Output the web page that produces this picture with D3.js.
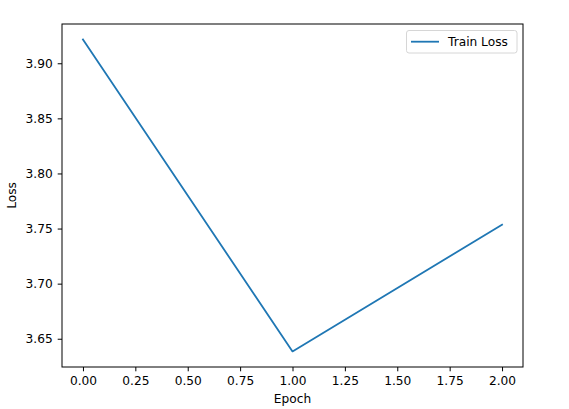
<!DOCTYPE html>
<html><head><meta charset="utf-8">
<script src="https://cdn.jsdelivr.net/npm/d3@7"></script>
<style>body{margin:0;background:#fff;} text{font-family:"DejaVu Sans",sans-serif;}</style>
</head><body>
<svg id="c" width="569" height="409"></svg>
<script>
const epochs = [0, 1, 2];
const trainLoss = [3.9215, 3.6385, 3.7535];
const xTicks = [0, 0.25, 0.5, 0.75, 1.0, 1.25, 1.5, 1.75, 2.0];
const yTicks = [3.65, 3.70, 3.75, 3.80, 3.85, 3.90];
const seriesName = "Train Loss";

const FS = "12.2px";
const svg = d3.select("#c");
const L = 62, R = 523, T = 24, B = 367;
const xr = d3.extent(epochs), xm = (xr[1]-xr[0])*0.05;
const yr = d3.extent(trainLoss), ym = (yr[1]-yr[0])*0.05;
const x = d3.scaleLinear().domain([xr[0]-xm, xr[1]+xm]).range([L, R]);
const y = d3.scaleLinear().domain([yr[0]-ym, yr[1]+ym]).range([B, T]);

const xa = svg.append("g").attr("transform", `translate(0,${B})`)
  .call(d3.axisBottom(x).tickValues(xTicks).tickFormat(d3.format(".2f")).tickSize(4.3).tickPadding(5.5));
const ya = svg.append("g").attr("transform", `translate(${L},0)`)
  .call(d3.axisLeft(y).tickValues(yTicks).tickFormat(d3.format(".2f")).tickSize(4.3).tickPadding(5));
[xa, ya].forEach(a => {
  a.select(".domain").remove();
  a.selectAll("line").attr("stroke", "#000").attr("stroke-width", 1);
  a.selectAll("text").attr("fill", "#000").style("font-size", FS).style("font-family", "DejaVu Sans");
});

svg.append("path")
  .datum(epochs.map((e, i) => [e, trainLoss[i]]))
  .attr("fill", "none").attr("stroke", "#1f77b4").attr("stroke-width", 1.8)
  .attr("stroke-linejoin", "round").attr("stroke-linecap", "square")
  .attr("d", d3.line().x(d => x(d[0])).y(d => y(d[1])));

svg.append("rect").attr("x", L).attr("y", T).attr("width", R-L).attr("height", B-T)
  .attr("fill", "none").attr("stroke", "#000").attr("stroke-width", 1);

svg.append("text").attr("x", (L+R)/2).attr("y", 403).attr("text-anchor", "middle")
  .style("font-size", FS).text("Epoch");
svg.append("text").attr("transform", `translate(16,${(T+B)/2}) rotate(-90)`).attr("text-anchor", "middle")
  .style("font-size", FS).text("Loss");

const lg = svg.append("g");
lg.append("rect").attr("x", 406.5).attr("y", 30.5).attr("width", 110.5).attr("height", 22.5).attr("rx", 2.5)
  .attr("fill", "#fff").attr("fill-opacity", 0.8).attr("stroke", "#d6d6d6").attr("stroke-width", 1);
lg.append("line").attr("x1", 411).attr("x2", 439).attr("y1", 41.7).attr("y2", 41.7)
  .attr("stroke", "#1f77b4").attr("stroke-width", 1.8);
lg.append("text").attr("x", 448).attr("y", 46).style("font-size", FS).text(seriesName);
</script>
</body></html>
